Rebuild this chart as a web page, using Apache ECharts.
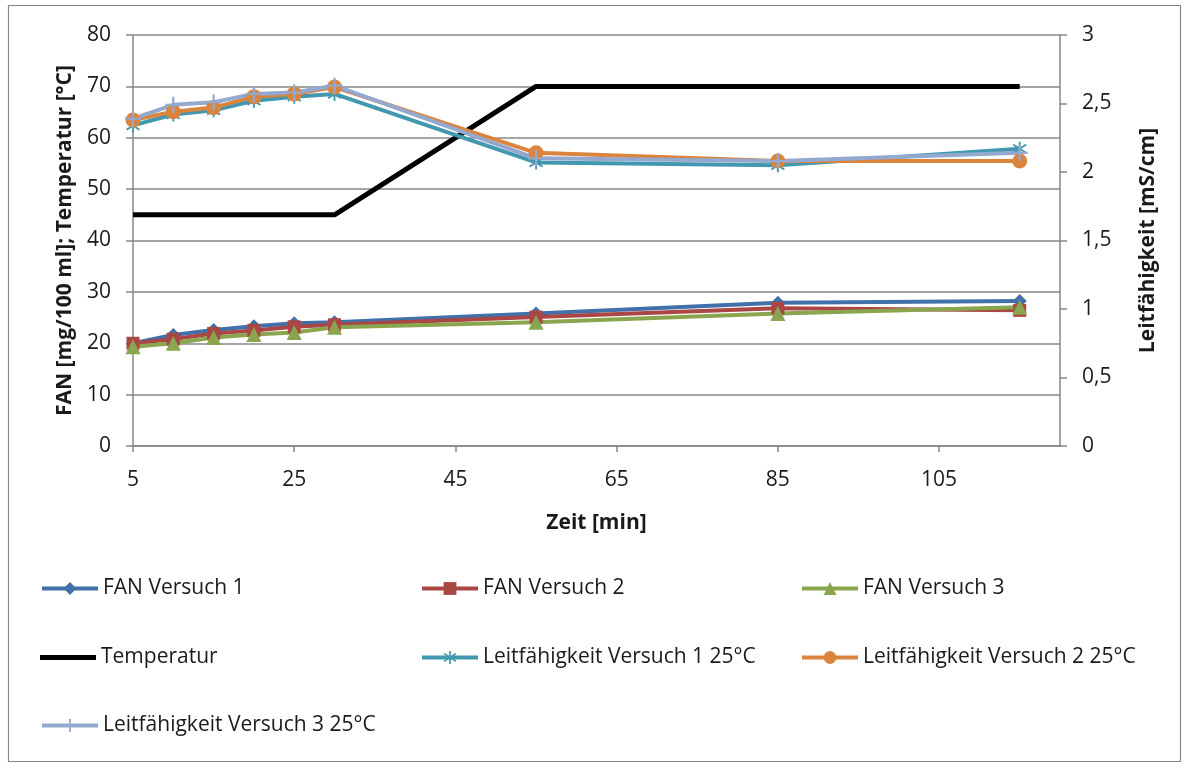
<!DOCTYPE html>
<html>
<head>
<meta charset="utf-8">
<script src="https://cdn.jsdelivr.net/npm/echarts@6/dist/echarts.min.js"></script>
<style>
  html, body { margin: 0; padding: 0; background: #fff; }
  #chart { width: 1189px; height: 769px; }
</style>
</head>
<body>
<div id="chart"></div>
<script>
// Sampling times in minutes
const times = [5, 10, 15, 20, 25, 30, 55, 85, 115];

// FAN [mg/100 ml] per run
const fan1 = [20.0, 21.6, 22.6, 23.3, 23.9, 24.1, 25.8, 27.9, 28.2];
const fan2 = [20.0, 20.8, 21.9, 22.5, 23.2, 23.6, 25.1, 26.8, 26.4];
const fan3 = [19.3, 20.0, 21.1, 21.7, 22.1, 23.1, 24.1, 25.8, 27.0];

// Temperature programme [°C]
const temperatur = [45, 45, 45, 45, 45, 45, 70, 70, 70];

// Conductivity at 25 °C [mS/cm] per run
const lf1 = [2.34, 2.42, 2.45, 2.52, 2.55, 2.57, 2.07, 2.05, 2.17];
const lf2 = [2.38, 2.44, 2.47, 2.55, 2.57, 2.62, 2.14, 2.08, 2.08];
const lf3 = [2.39, 2.49, 2.51, 2.57, 2.58, 2.63, 2.10, 2.08, 2.14];

const names = [
  'FAN Versuch 1', 'FAN Versuch 2', 'FAN Versuch 3', 'Temperatur',
  'Leitfähigkeit Versuch 1 25°C', 'Leitfähigkeit Versuch 2 25°C', 'Leitfähigkeit Versuch 3 25°C'
];

const FONT = '"Open Sans", "DejaVu Sans", sans-serif';
const GRID_COLOR = '#878787';

const pairs = (vals) => times.map((t, i) => [t, vals[i]]);

const asterisk = 'path://M4.4,0 L5.6,0 L5.6,10 L4.4,10 Z M0.5,2.5 L1.2,1.4 L9.5,7.5 L8.8,8.6 Z M8.8,1.4 L9.5,2.5 L1.2,8.6 L0.5,7.5 Z';
const plus = 'path://M4.3,0 L5.7,0 L5.7,4.3 L10,4.3 L10,5.7 L5.7,5.7 L5.7,10 L4.3,10 L4.3,5.7 L0,5.7 L0,4.3 L4.3,4.3 Z';

function lineSeries(name, vals, color, symbol, size, axis, width) {
  return {
    name: name,
    type: 'line',
    yAxisIndex: axis,
    data: pairs(vals),
    symbol: symbol,
    symbolSize: size,
    showSymbol: symbol !== 'none',
    lineStyle: { color: color, width: width || 4 },
    itemStyle: { color: color, borderWidth: 0 },
    animation: false
  };
}

// legend slot per series: [left, top]
const legendPos = [
  [40, 578], [420, 578], [800, 578],
  [40, 647], [420, 647], [800, 647],
  [40, 715]
];

const chart = echarts.init(document.getElementById('chart'), null, { renderer: 'canvas' });

chart.setOption({
  backgroundColor: '#fff',
  animation: false,
  textStyle: { fontFamily: FONT },
  graphic: [{
    type: 'rect',
    shape: { x: 8.5, y: 5.5, width: 1172, height: 756 },
    style: { fill: 'none', stroke: '#888', lineWidth: 1.2 },
    silent: true
  }],
  grid: { left: 133, right: 129, top: 35, bottom: 323, containLabel: false },
  legend: names.map((n, i) => ({
    data: i === 3 ? [{ name: n, icon: 'rect' }] : [n],
    left: legendPos[i][0],
    top: legendPos[i][1],
    padding: 0,
    itemWidth: 56,
    itemHeight: i === 3 ? 5 : 16,
    lineStyle: { width: 4 },
    textStyle: { fontFamily: FONT, fontSize: 21, color: '#1a1a1a' },
    selectedMode: false
  })),
  xAxis: {
    type: 'value',
    min: 5,
    max: 120,
    interval: 20,
    name: 'Zeit [min]',
    nameLocation: 'middle',
    nameGap: 67,
    nameTextStyle: { fontFamily: FONT, fontSize: 21, fontWeight: 'bold', color: '#1a1a1a' },
    axisLine: { show: true, onZero: false, lineStyle: { color: GRID_COLOR, width: 1.5 } },
    axisTick: { show: true, length: 6, lineStyle: { color: GRID_COLOR, width: 1.5 } },
    axisLabel: {
      fontFamily: FONT, fontSize: 21, color: '#1a1a1a', margin: 24,
      showMaxLabel: false
    },
    splitLine: { show: false }
  },
  yAxis: [{
    type: 'value',
    min: 0,
    max: 80,
    interval: 10,
    position: 'left',
    name: 'FAN [mg/100 ml]; Temperatur [°C]',
    nameLocation: 'middle',
    nameGap: 57,
    nameRotate: 90,
    nameTextStyle: { fontFamily: FONT, fontSize: 21, fontWeight: 'bold', color: '#1a1a1a' },
    axisLine: { show: true, lineStyle: { color: GRID_COLOR, width: 1.5 } },
    axisTick: { show: true, length: 7, lineStyle: { color: GRID_COLOR, width: 1.5 } },
    axisLabel: { fontFamily: FONT, fontSize: 21, color: '#1a1a1a', margin: 22 },
    splitLine: { show: true, lineStyle: { color: GRID_COLOR, width: 1.5 } }
  }, {
    type: 'value',
    min: 0,
    max: 3,
    interval: 0.5,
    position: 'right',
    name: 'Leitfähigkeit [mS/cm]',
    nameLocation: 'middle',
    nameGap: 78,
    nameRotate: 90,
    nameTextStyle: { fontFamily: FONT, fontSize: 21, fontWeight: 'bold', color: '#1a1a1a' },
    axisLine: { show: true, lineStyle: { color: GRID_COLOR, width: 1.5 } },
    axisTick: { show: true, length: 7, lineStyle: { color: GRID_COLOR, width: 1.5 } },
    axisLabel: {
      fontFamily: FONT, fontSize: 21, color: '#1a1a1a', margin: 22,
      formatter: (v) => String(v).replace('.', ',')
    },
    splitLine: { show: false }
  }],
  series: [
    lineSeries(names[0], fan1, '#4170AA', 'diamond', 14, 0),
    lineSeries(names[1], fan2, '#AA4643', 'rect', 13, 0),
    lineSeries(names[2], fan3, '#89A54E', 'triangle', 15, 0),
    lineSeries(names[3], temperatur, '#000000', 'none', 0, 0, 5),
    lineSeries(names[4], lf1, '#4198AF', asterisk, 14, 1),
    lineSeries(names[5], lf2, '#DB843D', 'circle', 15, 1),
    lineSeries(names[6], lf3, '#93A9CF', plus, 16, 1)
  ]
});
</script>
</body>
</html>
